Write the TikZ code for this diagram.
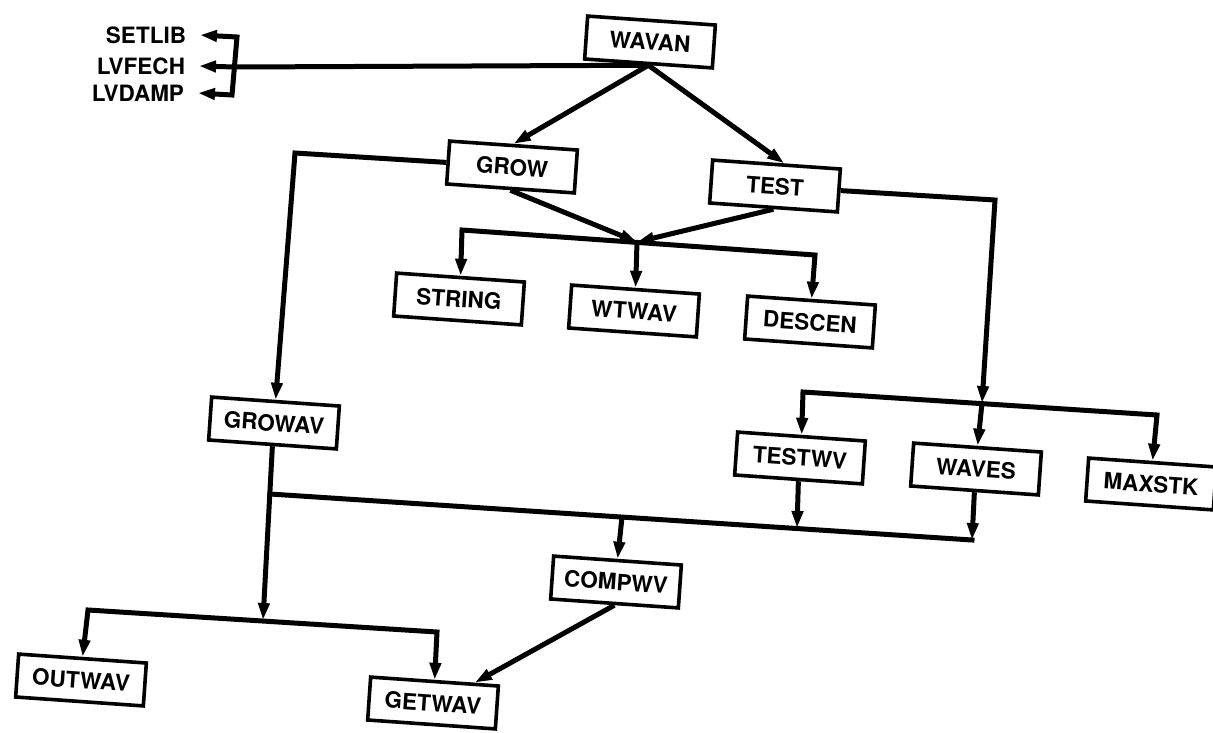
\documentclass[tikz,border=0pt]{standalone}
\usepackage{fontspec}
\setmainfont{TeX Gyre Heros}
\usetikzlibrary{arrows.meta}
\begin{document}
\begin{tikzpicture}[x=1pt,y=-1pt,
  txt/.style={font=\fontsize{22.5}{26}\selectfont\bfseries},
  box/.style={txt, draw, line width=3.6pt, minimum width=128pt,
    minimum height=43pt, inner sep=0pt, rotate=-4},
  lbl/.style={txt, anchor=east, inner sep=0pt, outer xsep=14pt},
  wire/.style={line width=5pt, line join=miter},
  tip/.tip={Triangle[length=17pt,width=11pt]},
  flow/.style={wire, -tip},
  dflow/.style={wire, tip-tip}]
\useasboundingbox (0,0) rectangle (1213,732);

% program modules
\node[box] (WAVAN)  at (650,42)   {WAVAN};
\node[box] (GROW)   at (512,167)  {GROW};
\node[box] (TEST)   at (775,186)  {TEST};
\node[box] (STRING) at (459,299)  {STRING};
\node[box] (WTWAV)  at (634,311)  {WTWAV};
\node[box] (DESCEN) at (810,322)  {DESCEN};
\node[box] (GROWAV) at (274,423)  {GROWAV};
\node[box] (TESTWV) at (800,458)  {TESTWV};
\node[box] (WAVES)  at (976,469)  {WAVES};
\node[box] (MAXSTK) at (1151,484) {MAXSTK};
\node[box] (COMPWV) at (616,582)  {COMPWV};
\node[box] (OUTWAV) at (81,680)   {OUTWAV};
\node[box] (GETWAV) at (433,703)  {GETWAV};

% library routines
\node[lbl] (SETLIB) at (200,35) {SETLIB};
\node[lbl] (LVFECH) at (199,66) {LVFECH};
\node[lbl] (LVDAMP) at (198,93) {LVDAMP};

% bend and bus points
\coordinate (jt) at (237,37);
\coordinate (jm) at (235,67);
\coordinate (jb) at (232,95);
\coordinate (c1) at (295,153);
\coordinate (c2) at (995,200);
\coordinate (b1l) at (462,230);
\coordinate (J)   at (637,242);
\coordinate (b1r) at (815,255);
\coordinate (b2l) at (803,392);
\coordinate (T)   at (982,403);
\coordinate (b2r) at (1157,415);
\coordinate (G3)  at (270,494);
\coordinate (b3t) at (797,528);
\coordinate (b3c) at (622,517);
\coordinate (b3r) at (972,540);
\coordinate (b4l) at (88,610);
\coordinate (G4)  at (263,620);
\coordinate (b4r) at (437,632);

% WAVAN calls
\draw[wire] (WAVAN.south) -- (jm);
\draw[dflow] (SETLIB.east) -- (jt) -- (jb) -- (LVDAMP.east);
\draw[flow] (jm) -- (LVFECH.east);
\draw[flow] (WAVAN.south) -- (GROW.north);
\draw[flow] (WAVAN.south) -- (TEST.72);

% GROW and TEST calls
\draw[flow] (GROW.west) -- (c1) -- (GROWAV.north);
\draw[flow] (GROW.south) -- (J);
\draw[flow] (TEST.south) -- (J);
\draw[dflow] (STRING.north) -- (b1l) -- (b1r) -- (DESCEN.north);
\draw[flow] (J) -- (WTWAV.north);
\draw[flow] (TEST.east) -- (c2) -- (T);
\draw[dflow] (TESTWV.north) -- (b2l) -- (b2r) -- (MAXSTK.north);
\draw[flow] (T) -- (WAVES.north);

% lower level
\draw[wire, line cap=rect] (G3) -- (b3r);
\draw[flow] (TESTWV.south) -- (b3t);
\draw[flow] (WAVES.south) -- (b3r);
\draw[flow] (b3c) -- (COMPWV.north);
\draw[flow] (GROWAV.south) -- (G4);
\draw[dflow] (OUTWAV.north) -- (b4l) -- (b4r) -- (GETWAV.north);
\draw[flow] (COMPWV.south) -- (GETWAV.30);
\end{tikzpicture}
\end{document}
